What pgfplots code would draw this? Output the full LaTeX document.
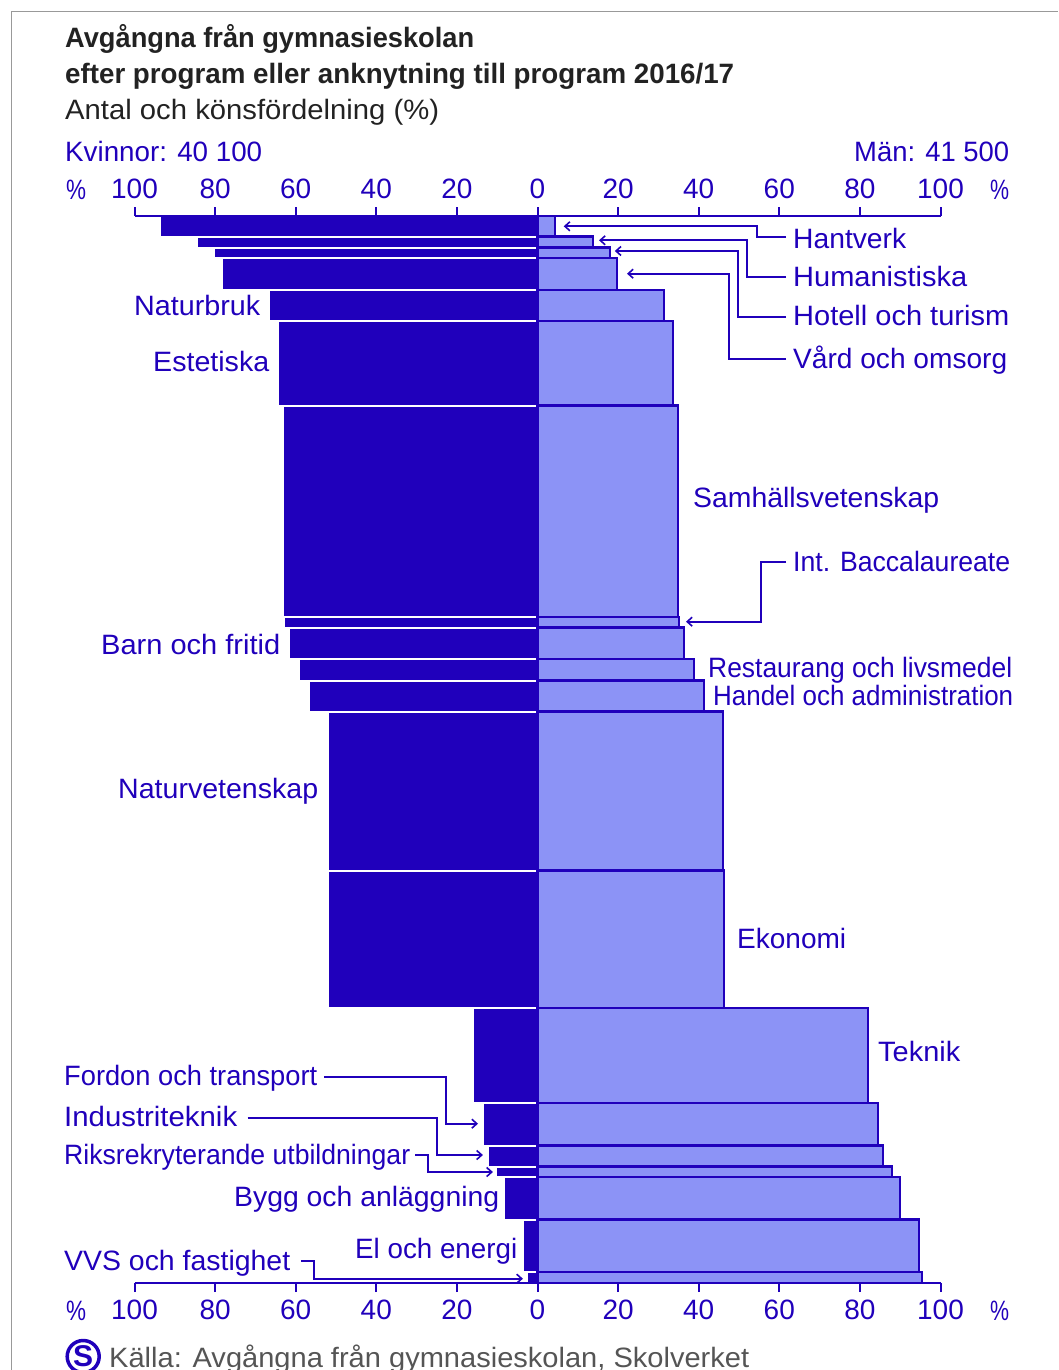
\documentclass[border=0pt]{standalone}
\usepackage{fontspec}
\usepackage{graphicx}
\usepackage{pgfplots}
\usepackage{pgfplotstable}
\usetikzlibrary{arrows.meta}
\pgfplotsset{compat=1.18}
\setmainfont{Liberation Sans}
\definecolor{dk}{HTML}{2000BB}
\definecolor{lt}{HTML}{8C93F6}
\definecolor{tt}{HTML}{222222}
\definecolor{src}{HTML}{555555}
\definecolor{bd}{HTML}{999999}
\newcommand{\fs}{\fontsize{28}{28}\selectfont}
% \lab{x}{baseline y}{width}{text}
\newcommand{\lab}[4]{\node[anchor=base west,inner sep=0pt,text=dk] at (#1,#2) {\resizebox{#3pt}{\height}{\fs #4}};}
\pgfplotstableread{
prog y women men
Hantverk 216 93.6 4.4
Humanistiska 236.5 84.5 13.7
Hotell 247.5 80.3 18.0
Vard 258 78.3 19.8
Naturbruk 289.8 66.6 31.4
Estetiska 321 64.5 33.6
Samhall 405.5 63.2 34.9
IB 617 62.9 35.1
BarnFritid 627.5 61.6 36.4
Restaurang 659 59.2 38.9
Handel 680.5 56.6 41.4
Naturvetenskap 711.5 52.0 46.1
Ekonomi 870.5 52.0 46.2
Teknik 1007.7 16.1 82.1
Fordon 1103 13.6 84.5
Industri 1145.5 12.3 85.8
Riks 1166.5 10.2 88.0
Bygg 1177 8.2 90.0
ElEnergi 1219.5 3.5 94.6
VVS 1272 2.6 95.5
end 1283 0 0
}\bars
\pgfplotsset{pyr/.style={
  at={(134.5pt,-1283pt)}, anchor=south west,
  scale only axis, width=806pt, height=1067pt,
  xmin=-100, xmax=100, ymin=216, ymax=1283, y dir=reverse,
  hide y axis, axis on top,
  xtick={-100,-80,-60,-40,-20,0,20,40,60,80,100},
  xticklabels={100,80,60,40,20,0,20,40,60,80,100},
  tick align=outside,
  major tick length=9pt,
  axis line style={draw=dk,line width=2pt},
  every tick/.style={draw=dk,line width=2pt},
  xticklabel style={font=\fs,text=dk,inner sep=0pt},
  xticklabel shift=8pt,
  clip=false,
}}
\tikzset{ld/.style={draw=dk,line width=2pt,-{Straight Barb[length=5pt,width=9pt,line width=1.6pt]}}}
\begin{document}
\begin{tikzpicture}
\clip (0,0) rectangle (1058pt,-1370pt);
\begin{axis}[pyr, axis x line*=bottom]
\addplot[xbar interval,fill=dk,draw=white,line width=2pt] table[x expr=-\thisrow{women},y=y] {\bars};
\addplot[xbar interval,fill=lt,draw=dk,line width=2.2pt] table[x=men,y=y] {\bars};
\end{axis}
\begin{axis}[pyr, axis x line*=top]
\end{axis}
\begin{scope}[x=1pt,y=-1pt]
\draw[bd,line width=1.8pt] (11.5,1370) -- (11.5,11.5) -- (1058,11.5);
\node[anchor=base west,inner sep=0pt,text=tt] at (65,48) {\resizebox{409pt}{\height}{\fs\bfseries Avgångna från gymnasieskolan}};
\node[anchor=base west,inner sep=0pt,text=tt] at (65,84) {\resizebox{669pt}{\height}{\fs\bfseries efter program eller anknytning till program 2016/17}};
\node[anchor=base west,inner sep=0pt,text=tt] at (65,120) {\resizebox{374pt}{\height}{\fs Antal och könsfördelning (\%)}};
\lab{65}{161}{197}{Kvinnor: 40 100}
\lab{854}{161}{155}{Män: 41 500}
\lab{66}{199}{20}{\%}
\lab{990}{199}{19}{\%}
\lab{66}{1320}{20}{\%}
\lab{990}{1320}{19}{\%}
% labels right
\lab{793}{248}{113}{Hantverk}
\lab{793}{286}{174}{Humanistiska}
\lab{793}{325}{216}{Hotell och turism}
\lab{793}{368}{214}{Vård och omsorg}
\lab{693}{507}{246}{Samhällsvetenskap}
\lab{793}{571}{217}{Int. Baccalaureate}
\lab{708}{677}{304}{Restaurang och livsmedel}
\lab{713}{705}{300}{Handel och administration}
\lab{737}{948}{109}{Ekonomi}
\lab{878}{1061}{82}{Teknik}
% labels left
\lab{134}{315}{126}{Naturbruk}
\lab{153}{371}{116}{Estetiska}
\lab{101}{654}{179}{Barn och fritid}
\lab{118}{798}{200}{Naturvetenskap}
\lab{64}{1085}{253}{Fordon och transport}
\lab{64}{1126}{173}{Industriteknik}
\lab{64}{1164}{346}{Riksrekryterande utbildningar}
\lab{234}{1206}{265}{Bygg och anläggning}
\lab{355}{1258}{162}{El och energi}
\lab{64}{1270}{226}{VVS och fastighet}
% leaders
\draw[ld] (786,236.7) -- (757.3,236.7) -- (757.3,226.3) -- (563.7,226.3);
\draw[ld] (786,276.7) -- (747.2,276.7) -- (747.2,240.3) -- (599,240.3);
\draw[ld] (786,316.7) -- (738.4,316.7) -- (738.4,251) -- (614.8,251);
\draw[ld] (786,359.3) -- (729.3,359.3) -- (729.3,273.7) -- (627,273.7);
\draw[ld] (786,562) -- (761,562) -- (761,621.7) -- (686,621.7);
\draw[ld] (324.3,1077.3) -- (445.7,1077.3) -- (445.7,1123.7) -- (478,1123.7);
\draw[ld] (247.5,1117.7) -- (436.8,1117.7) -- (436.8,1155) -- (482.9,1155);
\draw[ld] (415.4,1155.3) -- (427.5,1155.3) -- (427.5,1172) -- (492.9,1172);
\draw[ld] (301,1260.7) -- (314.3,1260.7) -- (314.3,1278.7) -- (522.9,1278.7);
% source
\draw[dk,line width=3.5pt] (83.2,1356.5) circle (16);
\node[text=dk,inner sep=0pt] at (83.2,1356.5) {\fontsize{30}{30}\selectfont\bfseries S};
\node[anchor=base west,inner sep=0pt,text=src] at (109,1367) {\resizebox{640pt}{\height}{\fs Källa: Avgångna från gymnasieskolan, Skolverket}};
\end{scope}
\end{tikzpicture}
\end{document}
